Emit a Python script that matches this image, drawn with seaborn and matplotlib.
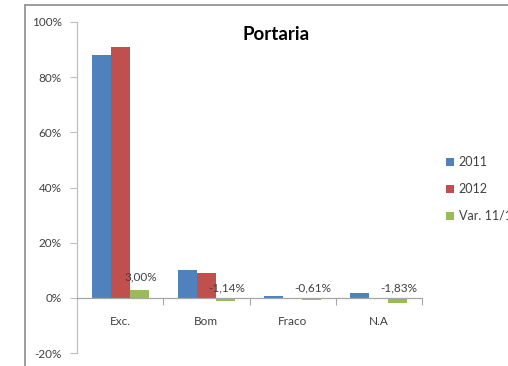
import matplotlib
matplotlib.use("Agg")
import matplotlib.pyplot as plt
import matplotlib.lines as mlines
import seaborn as sns
import pandas as pd
from matplotlib.ticker import FixedLocator, FuncFormatter

# Data
categories = ["Exc.", "Bom", "Fraco", "N.A"]
series_names = ["2011", "2012", "Var. 11/12"]
values_2011 = [87.96, 10.00, 0.61, 1.83]
values_2012 = [90.96, 8.86, 0.00, 0.00]
values_var = [3.00, -1.14, -0.61, -1.83]
y_ticks = [-20, 0, 20, 40, 60, 80, 100]

colors = ["#4F81BD", "#C0504D", "#9BBB59"]
text_gray = "#404040"
axis_gray = "#BFBFBF"

rows = []
for name, vals in zip(series_names, [values_2011, values_2012, values_var]):
    for cat, v in zip(categories, vals):
        rows.append({"Categoria": cat, "Série": name, "Valor": v})
df = pd.DataFrame(rows)

sns.set_style("white")
plt.rcParams["font.family"] = ["Lato", "DejaVu Sans"]

fig = plt.figure(figsize=(5.08, 3.66), dpi=100)
W, H = 508, 366
ax = fig.add_axes([77 / W, 1 - 353 / H, (422 - 77) / W, (353 - 22) / H])

sns.barplot(data=df, x="Categoria", y="Valor", hue="Série", order=categories,
            hue_order=series_names, palette=colors, width=0.66, saturation=1,
            errorbar=None, ax=ax, legend=True, linewidth=0)

ax.set_xlim(-0.5, len(categories) - 0.5)
ax.set_ylim(-20, 100)
ax.set_xlabel("")
ax.set_ylabel("")

# y axis
ax.yaxis.set_major_locator(FixedLocator(y_ticks))
ax.yaxis.set_major_formatter(FuncFormatter(lambda v, p: f"{v:.0f}%"))
ax.tick_params(axis="y", direction="out", length=5, width=0.8, color=axis_gray,
               labelsize=8.5, labelcolor=text_gray, pad=6, left=True)

# x axis crossing at zero, tick marks between categories
ax.spines["bottom"].set_position(("data", 0))
ax.spines["bottom"].set_color("#A6A6A6")
ax.spines["bottom"].set_linewidth(0.9)
ax.spines["left"].set_color(axis_gray)
ax.spines["left"].set_linewidth(0.9)
ax.spines["top"].set_visible(False)
ax.spines["right"].set_visible(False)
ax.set_xticks(range(len(categories)))
ax.set_xticklabels(categories)
ax.set_xticks([i + 0.5 for i in range(len(categories))], minor=True)
ax.tick_params(axis="x", which="major", length=0, pad=13, labelsize=8.5,
               labelcolor=text_gray)
ax.tick_params(axis="x", which="minor", direction="out", length=5,
               width=0.8, color="#A6A6A6", bottom=True)
ax.grid(False)

# value labels for the variation series
bar_width = 0.66 / 3
for i, v in enumerate(values_var):
    x = i + bar_width
    base = max(v, 0)
    label = f"{v:.2f}%".replace(".", ",")
    ax.annotate(label, (x, base), xytext=(1, 5 if v > 0 else 3),
                textcoords="offset points", ha="center", va="bottom",
                fontsize=8.5, color=text_gray)

# legend
handles, labels = ax.get_legend_handles_labels()
ax.legend_.remove()
fig.legend(handles, labels, loc="center left",
           bbox_to_anchor=(440 / W, 1 - 189 / H), frameon=False,
           fontsize=9, handlelength=0.6, handleheight=0.6, handletextpad=0.4,
           labelspacing=1.2, borderpad=0, labelcolor=text_gray)

# title
fig.text(276 / W, 1 - 34 / H, "Portaria", ha="center", va="center",
         fontsize=13.5, fontweight="bold", color="black")

# chart area border
fig.add_artist(mlines.Line2D([25 / W, 25 / W], [1 - 5 / H, 0], color="#8C8C8C",
                             lw=1.2, transform=fig.transFigure))
fig.add_artist(mlines.Line2D([25 / W, 1], [1 - 5 / H, 1 - 5 / H], color="#8C8C8C",
                             lw=1.2, transform=fig.transFigure))

fig.savefig("out.png", dpi=100)
